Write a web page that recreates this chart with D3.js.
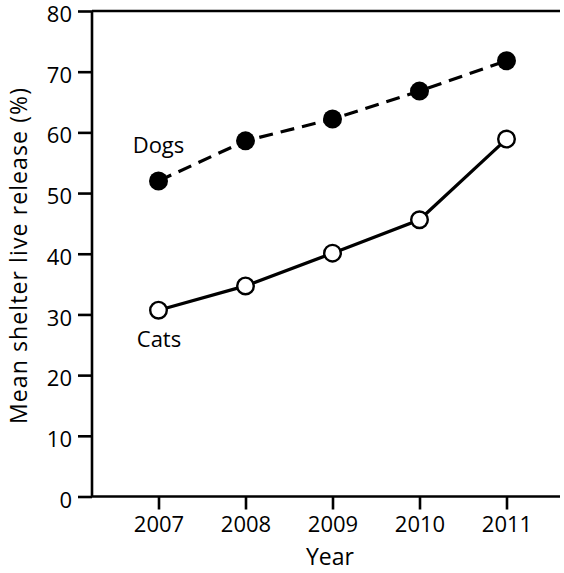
<!DOCTYPE html>
<html>
<head>
<meta charset="utf-8">
<script src="https://cdn.jsdelivr.net/npm/d3@7"></script>
<style>
  html, body { margin: 0; padding: 0; background: #fff; }
  svg text { font-family: "Open Sans", "Noto Sans", sans-serif; fill: #000; }
</style>
</head>
<body>
<svg id="chart" width="564" height="573"></svg>
<script>
// Shelter live release by year
const years = [2007, 2008, 2009, 2010, 2011];
const dogs = [52.0, 58.6, 62.2, 66.8, 71.8];
const cats = [30.7, 34.7, 40.1, 45.6, 58.9];
const yTicks = [0, 10, 20, 30, 40, 50, 60, 70, 80];

const svg = d3.select("#chart");
const plotLeft = 92, plotRight = 560, plotTop = 11, plotBottom = 496.5;

const x = d3.scaleLinear().domain([2007, 2011]).range([158.5, 506.5]);
const y = d3.scaleLinear().domain([0, 80]).range([plotBottom, plotTop]);

// Frame: top border line
svg.append("line")
  .attr("x1", plotLeft).attr("x2", plotRight)
  .attr("y1", plotTop).attr("y2", plotTop)
  .attr("stroke", "#000").attr("stroke-width", 2.6);

// Y axis
const yAxis = svg.append("g")
  .attr("transform", `translate(${plotLeft},0)`)
  .call(d3.axisLeft(y).tickValues(yTicks).tickSize(14).tickPadding(6).tickFormat(d3.format("d")));
yAxis.select(".domain").attr("stroke-width", 2.6).attr("d", `M0,${plotTop}V${plotBottom}`);
yAxis.selectAll(".tick line").attr("stroke-width", 2.6);
yAxis.selectAll(".tick text").style("font-size", "22px").attr("dy", "0.48em");

// X axis
const xAxis = svg.append("g")
  .attr("transform", `translate(0,${plotBottom})`)
  .call(d3.axisBottom(x).tickValues(years).tickSize(13).tickPadding(7).tickFormat(d3.format("d")));
xAxis.select(".domain").attr("stroke-width", 2.6).attr("d", `M${plotLeft},0H${plotRight}`);
xAxis.selectAll(".tick line").attr("stroke-width", 2.6);
xAxis.selectAll(".tick text").style("font-size", "22px");

// Axis titles
svg.append("text")
  .attr("x", 330).attr("y", 565)
  .attr("text-anchor", "middle")
  .style("font-size", "23px")
  .text("Year");

svg.append("text")
  .attr("transform", "translate(27,424) rotate(-90)")
  .attr("text-anchor", "start")
  .attr("textLength", 336)
  .attr("lengthAdjust", "spacing")
  .style("font-size", "23px")
  .text("Mean shelter live release (%)");

const line = d3.line().x((d, i) => x(years[i])).y(d => y(d));

// Dogs: dashed line, filled markers
svg.append("path")
  .datum(dogs)
  .attr("d", line)
  .attr("fill", "none").attr("stroke", "#000")
  .attr("stroke-width", 3.2).attr("stroke-dasharray", "14,8");

svg.selectAll("circle.dog")
  .data(dogs).enter().append("circle")
  .attr("class", "dog")
  .attr("cx", (d, i) => x(years[i])).attr("cy", d => y(d))
  .attr("r", 9.5).attr("fill", "#000");

// Cats: solid line, open markers
svg.append("path")
  .datum(cats)
  .attr("d", line)
  .attr("fill", "none").attr("stroke", "#000")
  .attr("stroke-width", 3.2);

svg.selectAll("circle.cat")
  .data(cats).enter().append("circle")
  .attr("class", "cat")
  .attr("cx", (d, i) => x(years[i])).attr("cy", d => y(d))
  .attr("r", 8.3).attr("fill", "#fff")
  .attr("stroke", "#000").attr("stroke-width", 2.4);

// Series labels
svg.append("text")
  .attr("x", 158.5).attr("y", 153)
  .attr("text-anchor", "middle")
  .style("font-size", "22px")
  .text("Dogs");

svg.append("text")
  .attr("x", 159).attr("y", 347)
  .attr("text-anchor", "middle")
  .style("font-size", "22px")
  .text("Cats");
</script>
</body>
</html>
